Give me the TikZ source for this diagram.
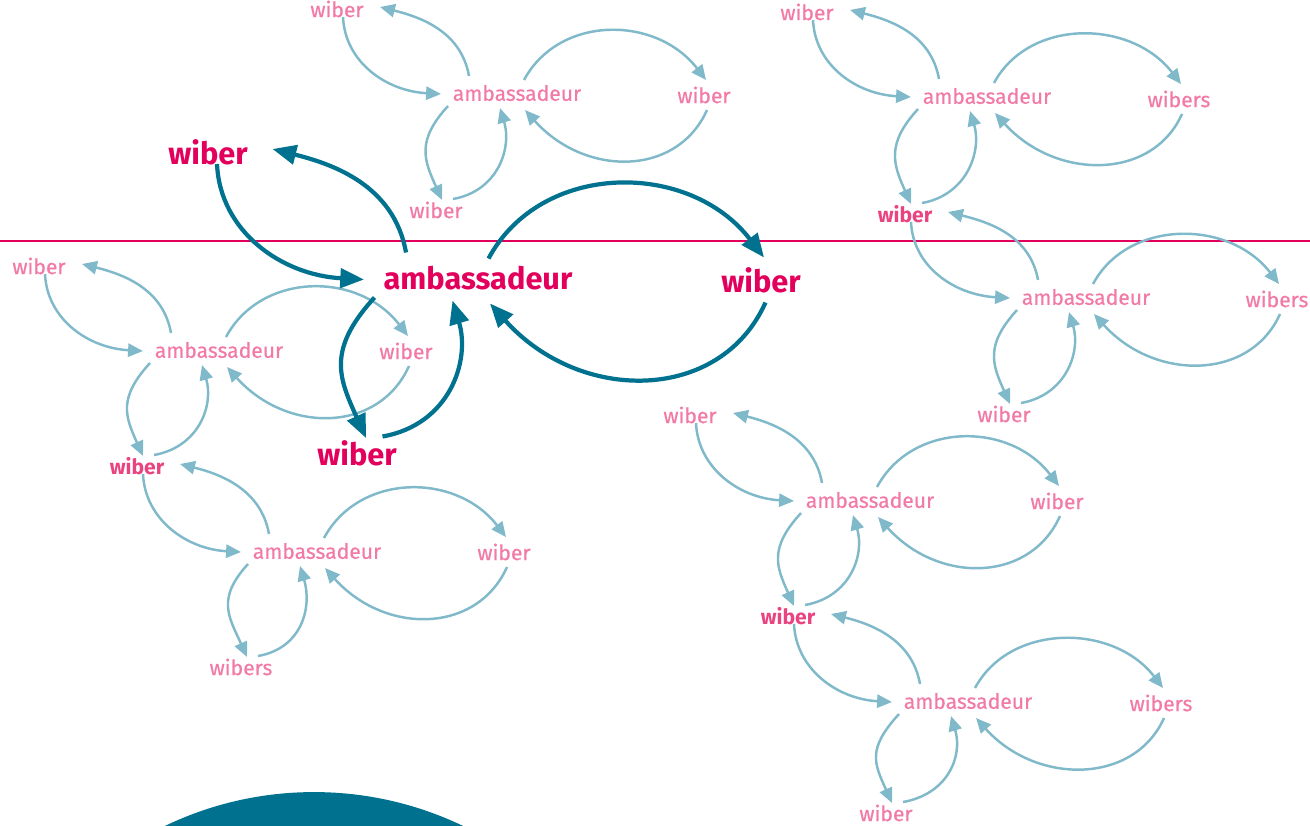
\documentclass[tikz,border=0pt]{standalone}
\usepackage{fontspec}
\setmainfont{Fira Sans}
\newfontfamily\medfont{Fira Sans}[FakeBold=0.5]
\usepackage{tikz}
\usetikzlibrary{arrows.meta}
\definecolor{rose}{HTML}{E2005C}
\definecolor{lightrose}{HTML}{F27AA6}
\definecolor{midrose}{HTML}{EA4480}
\definecolor{petrol}{HTML}{00728F}
\definecolor{lightpetrol}{HTML}{80B9C9}

\begin{document}
\begin{tikzpicture}[x=0.02cm, y=-0.02cm,
  smalllabel/.style={text=lightrose, inner sep=0pt, font=\medfont\fontsize{12}{12}\selectfont},
  linklabel/.style={text=midrose, inner sep=0pt, font=\fontsize{12}{12}\selectfont\bfseries},
  biglabel/.style={text=rose, inner sep=0pt, font=\fontsize{17.5}{17.5}\selectfont\bfseries},
  smallarrow/.style={draw=lightpetrol, line width=1.4pt, -{Triangle[length=8.5pt,width=7.5pt]}},
  bigarrow/.style={draw=petrol, line width=2.4pt, -{Triangle[length=13.5pt,width=11pt]}}]
  \useasboundingbox (0,0) rectangle (1310,825);
  \fill[petrol] (314,1136) circle[radius=6.88cm];
  \draw[rose, line width=1.2pt] (0,241) -- (1310,241);

  \node[biglabel] (m) at (478,278) {ambassadeur};
  \node[biglabel] (mu) at (208,152) {wiber};
  \node[biglabel] (mr) at (761,280) {wiber};
  \node[biglabel] (mb) at (357,453) {wiber};

  \node[smalllabel] (t) at (517,93) {ambassadeur};
  \node[smalllabel] (tu) at (337,9) {wiber};
  \node[smalllabel] (tr) at (704,95) {wiber};
  \node[smalllabel] (tb) at (436,210) {wiber};

  \node[smalllabel] (u) at (987,96) {ambassadeur};
  \node[smalllabel] (uu) at (807,12) {wiber};
  \node[smalllabel] (ur) at (1179,99) {wibers};
  \node[linklabel] (ub) at (905,214) {wiber};
  \node[smalllabel] (v) at (1086,297) {ambassadeur};
  \node[smalllabel] (vr) at (1277,299) {wibers};
  \node[smalllabel] (vb) at (1004,414) {wiber};

  \node[smalllabel] (l) at (219,350) {ambassadeur};
  \node[smalllabel] (lu) at (39,266) {wiber};
  \node[smalllabel] (lr) at (406,351) {wiber};
  \node[linklabel] (lb) at (137,466) {wiber};
  \node[smalllabel] (k) at (317,551) {ambassadeur};
  \node[smalllabel] (kr) at (504,552) {wiber};
  \node[smalllabel] (kb) at (241,667) {wibers};

  \node[smalllabel] (p) at (870,500) {ambassadeur};
  \node[smalllabel] (pu) at (690,415) {wiber};
  \node[smalllabel] (pr) at (1057,501) {wiber};
  \node[linklabel] (pb) at (788,616) {wiber};
  \node[smalllabel] (q) at (968,701) {ambassadeur};
  \node[smalllabel] (qr) at (1161,703) {wibers};
  \node[smalllabel] (qb) at (886,813) {wiber};

  % hub / upper left / right / below / factor / style
  \foreach \hub/\nw/\ea/\so/\fac/\sty in {t/tu/tr/tb/1/smallarrow, u/uu/ur/ub/1/smallarrow,
      v/ub/vr/vb/1/smallarrow, l/lu/lr/lb/1/smallarrow, k/lb/kr/kb/1/smallarrow,
      p/pu/pr/pb/1/smallarrow, q/pb/qr/qb/1/smallarrow, m/mu/mr/mb/1.5/bigarrow} {
    \draw[\sty] ([shift={(-48*\fac,-17*\fac)}]\hub.center) .. controls +(-8*\fac,-45*\fac) and +(40*\fac,10*\fac) .. ([shift={(43*\fac,-2*\fac)}]\nw.center);
    \draw[\sty] ([shift={(6*\fac,8*\fac)}]\nw.center) .. controls +(2*\fac,45*\fac) and +(-55*\fac,-3*\fac) .. ([shift={(-76*\fac,1*\fac)}]\hub.center);
    \draw[\sty] ([shift={(7*\fac,-13*\fac)}]\hub.center) .. controls +(35*\fac,-65*\fac) and +(-50*\fac,-65*\fac) .. ([shift={(2*\fac,-15*\fac)}]\ea.center);
    \draw[\sty] ([shift={(3*\fac,15*\fac)}]\ea.center) .. controls +(-30*\fac,67*\fac) and +(60*\fac,67*\fac) .. ([shift={(8*\fac,17*\fac)}]\hub.center);
    \draw[\sty] ([shift={(-69*\fac,13*\fac)}]\hub.center) .. controls +(-32*\fac,35*\fac) and +(-18*\fac,-40*\fac) .. ([shift={(6*\fac,-10*\fac)}]\so.center);
    \draw[\sty] ([shift={(17*\fac,-11*\fac)}]\so.center) .. controls +(45*\fac,-8*\fac) and +(12*\fac,40*\fac) .. ([shift={(-17*\fac,15*\fac)}]\hub.center);
  }
\end{tikzpicture}
\end{document}
